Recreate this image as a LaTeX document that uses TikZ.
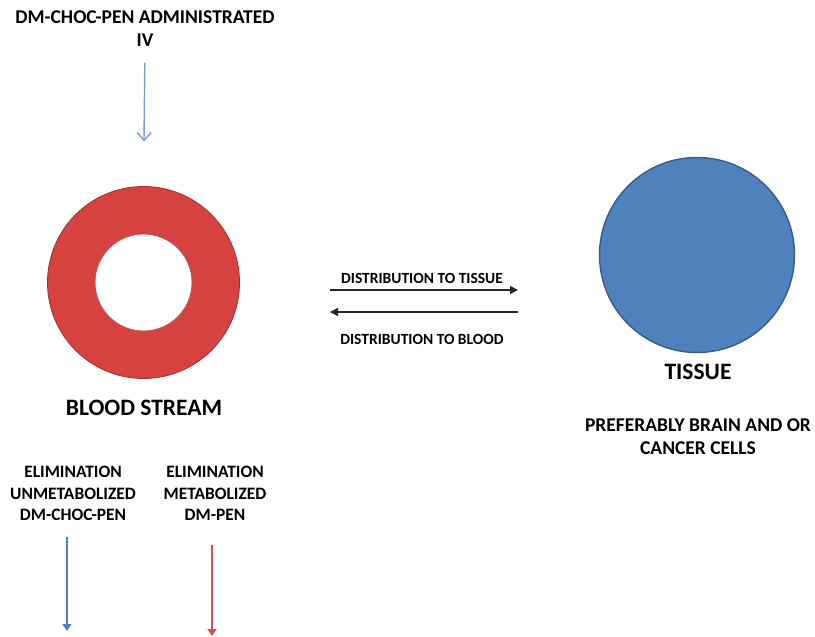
\documentclass[tikz,border=0pt]{standalone}
\usepackage{fontspec}
\setmainfont{Carlito}
\usetikzlibrary{arrows.meta}
\definecolor{ringred}{RGB}{214,66,64}
\definecolor{ringdark}{RGB}{170,45,45}
\definecolor{tissueblue}{RGB}{79,129,189}
\definecolor{tissueedge}{RGB}{55,92,140}
\definecolor{ivblue}{RGB}{120,158,216}
\definecolor{elimblue}{RGB}{76,128,206}
\definecolor{elimred}{RGB}{214,80,74}

\begin{document}
\begin{tikzpicture} [x = 1pt, y = -1pt,
  lbl/.style = {align = center, inner sep = 0pt, font = \bfseries\fontsize{19.5}{23}\selectfont},
  biglbl/.style = {align = center, inner sep = 0pt, font = \bfseries\fontsize{23.5}{27}\selectfont},
  midlbl/.style = {inner sep = 0pt, font = \bfseries\fontsize{15.5}{18}\selectfont},
  elimlbl/.style = {align = center, inner sep = 0pt, font = \bfseries\fontsize{17.4}{21.5}\selectfont},
  midarrow/.style = {black!85, line width = 1.6pt, -{Triangle[length = 8pt, width = 8pt]}},
  elimarrow/.style = {line width = 1.4pt, -{Triangle[length = 7pt, width = 9pt]}}]
\useasboundingbox (0, 0) rectangle (815, 637);
\node[circle, draw = ringred, line width = 47.5pt, minimum size = 144.5pt, inner sep = 0pt] (blood) at (143.5, 282.5) {};
\draw[ringdark, line width = 0.8pt] (143.5, 282.5) circle (96pt);
\draw[ringdark!80, line width = 0.8pt] (143.5, 282.5) circle (48.5pt);
\node[circle, fill = tissueblue, draw = tissueedge, line width = 1.4pt, minimum size = 195pt, inner sep = 0pt] (tissue) at (697, 255) {};
\node[lbl] (admin) at (145, 28.5) {DM-CHOC-PEN ADMINISTRATED\\IV};
\draw[ivblue, line width = 1.4pt, -{Straight Barb[length = 8pt, width = 14pt]}, shorten < = 16pt, shorten > = 45pt] (admin.south) -- (blood.north);
\node[biglbl] (bloodlbl) at (144, 408) {BLOOD STREAM};
\node[biglbl] (tissuelbl) at (698, 372) {TISSUE};
\node[lbl] (pref) at (698, 436.5) {PREFERABLY BRAIN AND OR\\CANCER CELLS};
\coordinate (toti-a) at (330, 290);
\coordinate (toti-b) at (518, 290);
\coordinate (tobl-a) at (518, 312);
\coordinate (tobl-b) at (330, 312);
\draw[midarrow] (toti-a) -- (toti-b);
\draw[midarrow] (tobl-a) -- (tobl-b);
\node[midlbl] (totilbl) at (422, 278) {DISTRIBUTION TO TISSUE};
\node[midlbl] (tobllbl) at (422, 339) {DISTRIBUTION TO BLOOD};
\node[elimlbl] (elimun) at (73, 493.5) {ELIMINATION\\UNMETABOLIZED\\DM-CHOC-PEN};
\node[elimlbl] (elimmet) at (215, 493.5) {ELIMINATION\\METABOLIZED\\DM-PEN};
\coordinate (un-a) at (67, 537);
\coordinate (un-b) at (67, 631);
\coordinate (met-a) at (212, 545);
\coordinate (met-b) at (212, 636);
\draw[elimarrow, elimblue] (un-a) -- (un-b);
\draw[elimarrow, elimred] (met-a) -- (met-b);
\end{tikzpicture}
\end{document}
